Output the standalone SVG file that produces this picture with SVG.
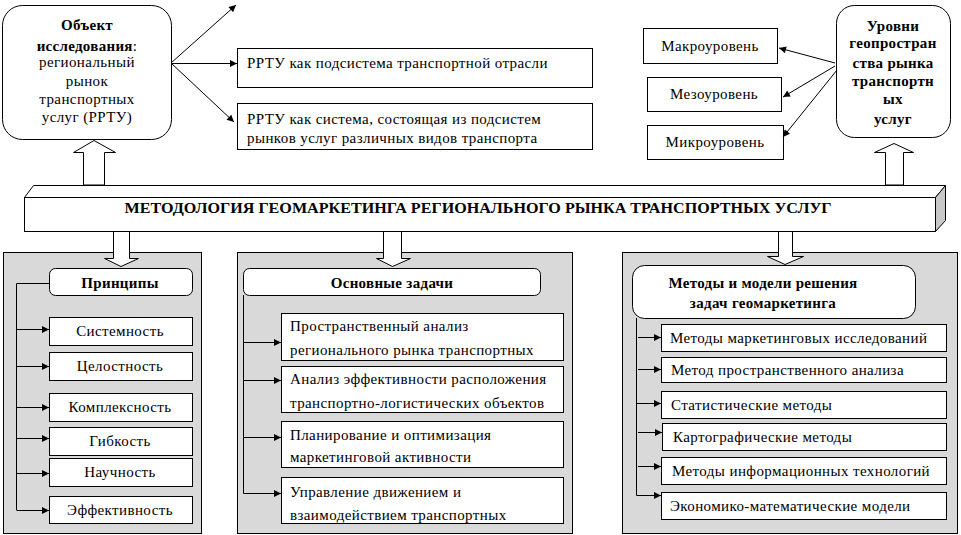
<svg xmlns="http://www.w3.org/2000/svg" width="961" height="535" viewBox="0 0 961 535">
<defs>
<marker id="ah" viewBox="0 0 10 10" refX="10" refY="5" markerWidth="8" markerHeight="7" markerUnits="userSpaceOnUse" orient="auto">
<path d="M0,0 L10,5 L0,10 z" fill="#000"/>
</marker>
<style>
.b{fill:#fff;stroke:#000;stroke-width:1}
.p{fill:#d9d9d9;stroke:#000;stroke-width:1}
text{font-family:'Liberation Serif','DejaVu Serif',serif}
.t{font-size:15px;letter-spacing:0.4px;fill:#000}
.h{font-size:15px;font-weight:bold;letter-spacing:0.3px;fill:#000}
.c{text-anchor:middle}
.l{fill:none;stroke:#000;stroke-width:1}
.a{fill:none;stroke:#000;stroke-width:1;marker-end:url(#ah)}
.blk{fill:#fff;stroke:#000;stroke-width:1}
</style>
</defs>
<rect width="961" height="535" fill="#fff"/>

<!-- panels -->
<g id="panel-principles"><rect class="p" x="3.5" y="252.5" width="198" height="281"/></g>
<g id="panel-tasks"><rect class="p" x="237.5" y="252.5" width="335" height="281"/></g>
<g id="panel-methods"><rect class="p" x="622.5" y="252.5" width="335" height="281"/></g>

<!-- block arrows -->
<g id="block-arrows">
<polygon class="blk" points="83.5,185 83.5,152.5 73.5,152.5 94,140.5 115.5,152.5 104.5,152.5 104.5,185"/>
<polygon class="blk" points="885.5,185 885.5,152.5 874.5,152.5 894,143.5 913.5,152.5 903.5,152.5 903.5,185"/>
<polygon class="blk" points="113.5,231 113.5,258.5 104.5,258.5 121,266.5 138.5,258.5 129.5,258.5 129.5,231"/>
<polygon class="blk" points="383.5,231 383.5,258.5 376.5,258.5 392.5,266.5 410.5,258.5 401.5,258.5 401.5,231"/>
<polygon class="blk" points="778.5,231 778.5,256.5 767.5,256.5 785,264.5 803.5,256.5 792.5,256.5 792.5,231"/>
</g>

<!-- central bar -->
<g id="methodology">
<polygon class="b" points="24.5,197.5 33.5,185.5 945.5,185.5 935.5,197.5"/>
<polygon points="935.5,197.5 945.5,185.5 945.5,220.5 935.5,231.5" fill="#c8c8c8" stroke="#000"/>
<rect class="b" x="24.5" y="197.5" width="911" height="34"/>
<text class="h c" x="478" y="213" textLength="707" lengthAdjust="spacingAndGlyphs" style="font-size:14px;letter-spacing:0">МЕТОДОЛОГИЯ ГЕОМАРКЕТИНГА РЕГИОНАЛЬНОГО РЫНКА ТРАНСПОРТНЫХ УСЛУГ</text>
</g>

<!-- object -->
<g id="object">
<rect class="b" x="2.5" y="5.5" width="169" height="134" rx="20"/>
<text class="h c" x="87" y="30">Объект</text>
<text class="c" x="87" y="51"><tspan class="h">исследования</tspan><tspan class="t">:</tspan></text>
<text class="t c" x="87" y="67">региональный</text>
<text class="t c" x="87" y="86">рынок</text>
<text class="t c" x="87" y="104">транспортных</text>
<text class="t c" x="87" y="122">услуг (РРТУ)</text>
</g>

<g id="rrtu-sub">
<rect class="b" x="237.5" y="48.5" width="355" height="39"/>
<text class="t" x="247" y="68">РРТУ как подсистема транспортной отрасли</text>
</g>
<g id="rrtu-sys">
<rect class="b" x="237.5" y="103.5" width="355" height="46"/>
<text class="t" x="247" y="124">РРТУ как система, состоящая из подсистем</text>
<text class="t" x="247" y="143">рынков услуг различных видов транспорта</text>
</g>

<!-- levels -->
<g id="levels">
<rect class="b" x="836.5" y="5.5" width="114" height="132" rx="18"/>
<text class="h c" x="893" y="31">Уровни</text>
<text class="h c" x="893" y="48">геопростран</text>
<text class="h c" x="893" y="68">ства рынка</text>
<text class="h c" x="893" y="86">транспортн</text>
<text class="h c" x="893" y="104">ых</text>
<text class="h c" x="893" y="124">услуг</text>
</g>
<g id="macro"><rect class="b" x="643.5" y="28.5" width="134" height="35"/><text class="t c" x="710" y="51">Макроуровень</text></g>
<g id="meso"><rect class="b" x="647.5" y="77.5" width="134" height="34"/><text class="t c" x="714" y="99">Мезоуровень</text></g>
<g id="micro"><rect class="b" x="647.5" y="125.5" width="136" height="34"/><text class="t c" x="715" y="147">Микроуровень</text></g>

<!-- principles -->
<g id="principles"><rect class="b" x="49.5" y="268.5" width="143" height="27" rx="6"/><text class="h c" x="120" y="288">Принципы</text></g>
<g id="p1"><rect class="b" x="49.5" y="317.5" width="143" height="28"/><text class="t c" x="120" y="336">Системность</text></g>
<g id="p2"><rect class="b" x="49.5" y="352.5" width="143" height="28"/><text class="t c" x="120" y="371">Целостность</text></g>
<g id="p3"><rect class="b" x="49.5" y="393.5" width="143" height="28"/><text class="t c" x="120" y="412">Комплексность</text></g>
<g id="p4"><rect class="b" x="49.5" y="427.5" width="143" height="28"/><text class="t c" x="120" y="446">Гибкость</text></g>
<g id="p5"><rect class="b" x="49.5" y="458.5" width="143" height="28"/><text class="t c" x="120" y="477">Научность</text></g>
<g id="p6"><rect class="b" x="49.5" y="496.5" width="143" height="27"/><text class="t c" x="120" y="515">Эффективность</text></g>

<!-- tasks -->
<g id="tasks"><rect class="b" x="243.5" y="268.5" width="297" height="27" rx="6"/><text class="h c" x="392" y="288">Основные задачи</text></g>
<g id="t1"><rect class="b" x="281.5" y="313.5" width="282" height="47"/><text class="t" x="290" y="331">Пространственный анализ</text><text class="t" x="290" y="355">регионального рынка транспортных</text></g>
<g id="t2"><rect class="b" x="281.5" y="366.5" width="282" height="46"/><text class="t" x="290" y="384">Анализ эффективности расположения</text><text class="t" x="290" y="408">транспортно-логистических объектов</text></g>
<g id="t3"><rect class="b" x="281.5" y="421.5" width="282" height="46"/><text class="t" x="290" y="440">Планирование и оптимизация</text><text class="t" x="290" y="462">маркетинговой активности</text></g>
<g id="t4"><rect class="b" x="281.5" y="477.5" width="282" height="46"/><text class="t" x="290" y="497">Управление движением и</text><text class="t" x="290" y="520">взаимодействием транспортных</text></g>

<!-- methods -->
<g id="methods"><rect class="b" x="632.5" y="265.5" width="283" height="53" rx="12"/><text class="h c" x="763" y="288">Методы и модели решения</text><text class="h c" x="763" y="308">задач геомаркетинга</text></g>
<g id="m1"><rect class="b" x="661.5" y="324.5" width="285" height="27"/><text class="t" x="670" y="343">Методы маркетинговых исследований</text></g>
<g id="m2"><rect class="b" x="661.5" y="357.5" width="285" height="25"/><text class="t" x="671" y="375">Метод пространственного анализа</text></g>
<g id="m3"><rect class="b" x="661.5" y="391.5" width="285" height="27"/><text class="t" x="671" y="410">Статистические методы</text></g>
<g id="m4"><rect class="b" x="662.5" y="423.5" width="284" height="27"/><text class="t" x="673" y="442">Картографические методы</text></g>
<g id="m5"><rect class="b" x="661.5" y="457.5" width="285" height="27"/><text class="t" x="672" y="476">Методы информационных технологий</text></g>
<g id="m6"><rect class="b" x="661.5" y="492.5" width="285" height="27"/><text class="t" x="670" y="511">Экономико-математические модели</text></g>

<!-- connectors -->
<g id="connectors">
<line class="a" x1="171" y1="63" x2="236" y2="5"/>
<line class="a" x1="171" y1="63.5" x2="237" y2="63.5"/>
<line class="a" x1="171" y1="63" x2="234" y2="122"/>
<line class="a" x1="835" y1="63" x2="779" y2="48"/>
<line class="a" x1="835" y1="66" x2="783" y2="97"/>
<line class="a" x1="837" y1="70" x2="783" y2="137"/>

<polyline class="l" points="49,283.5 16.5,283.5 16.5,510"/>
<line class="a" x1="16.5" y1="329.5" x2="49" y2="329.5"/>
<line class="a" x1="16.5" y1="366.5" x2="49" y2="366.5"/>
<line class="a" x1="16.5" y1="407.5" x2="49" y2="407.5"/>
<line class="a" x1="16.5" y1="438.5" x2="49" y2="438.5"/>
<line class="a" x1="16.5" y1="473.5" x2="49" y2="473.5"/>
<line class="a" x1="16.5" y1="510.5" x2="49" y2="510.5"/>

<line class="l" x1="243.5" y1="295" x2="243.5" y2="493.5"/>
<line class="a" x1="243.5" y1="342.5" x2="281" y2="342.5"/>
<line class="a" x1="243.5" y1="380.5" x2="281" y2="380.5"/>
<line class="a" x1="243.5" y1="437.5" x2="281" y2="437.5"/>
<line class="a" x1="243.5" y1="493.5" x2="281" y2="493.5"/>

<line class="l" x1="636.5" y1="318" x2="636.5" y2="495.5"/>
<line class="a" x1="638" y1="337.5" x2="661" y2="337.5"/>
<line class="a" x1="638" y1="369.5" x2="661" y2="369.5"/>
<line class="a" x1="636.5" y1="403.5" x2="661" y2="403.5"/>
<line class="a" x1="638" y1="432.5" x2="662" y2="432.5"/>
<line class="a" x1="638" y1="466.5" x2="661" y2="466.5"/>
<line class="a" x1="636.5" y1="495.5" x2="661" y2="495.5"/>
</g>
</svg>
